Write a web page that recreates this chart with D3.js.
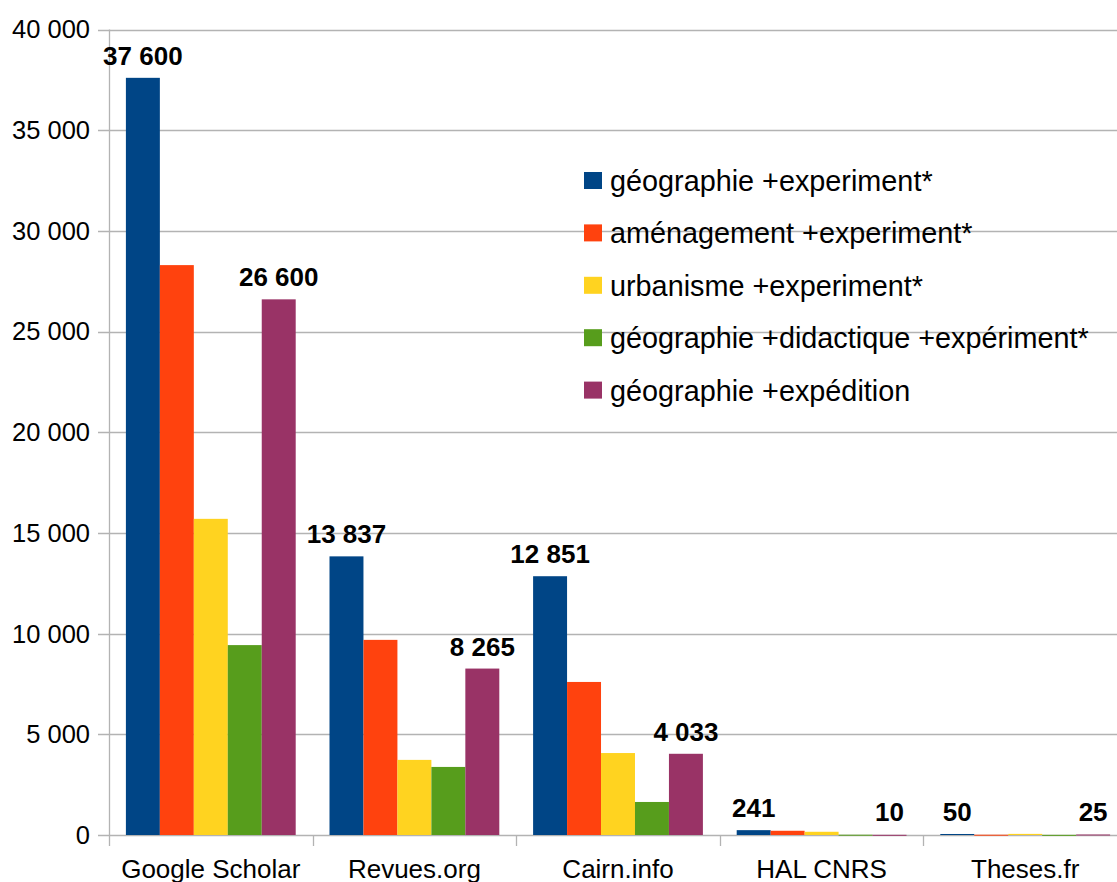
<!DOCTYPE html>
<html>
<head>
<meta charset="utf-8">
<script src="https://cdn.jsdelivr.net/npm/d3@7"></script>
<style>
  body { margin: 0; background: #fff; }
  svg { display: block; font-family: "Liberation Sans", Arial, sans-serif; }
</style>
</head>
<body>
<div class="chart-container"></div>
<script>
// --------------------------------------------------------
// DATA
// --------------------------------------------------------
const categories = ["Google Scholar", "Revues.org", "Cairn.info", "HAL CNRS", "Theses.fr"];
const seriesNames = [
  "géographie +experiment*",
  "aménagement +experiment*",
  "urbanisme +experiment*",
  "géographie +didactique +expériment*",
  "géographie +expédition"
];
const seriesColors = ["#004586", "#ff420e", "#ffd320", "#579d1c", "#993366"];
const geoExperiment = [37600, 13837, 12851, 241, 50];
const amenExperiment = [28300, 9690, 7600, 210, 15];
const urbaExperiment = [15700, 3730, 4070, 160, 55];
const geoDidactique = [9430, 3380, 1640, 15, 8];
const geoExpedition = [26600, 8265, 4033, 10, 25];
const seriesValues = [geoExperiment, amenExperiment, urbaExperiment, geoDidactique, geoExpedition];
// only these series get a value label
const labelledSeries = [0, 4];
const yTicks = [0, 5000, 10000, 15000, 20000, 25000, 30000, 35000, 40000];

// --------------------------------------------------------
// VARIABLES
// --------------------------------------------------------
const width = 1117;
const height = 882;
const plotLeft = 109;
const plotRight = 1127; // plot runs past the picture edge
const plotTop = 29.5;
const plotBottom = 835;

const fr = d3.formatLocale({ decimal: ",", thousands: " ", grouping: [3], currency: ["", "€"] });
const fmt = fr.format(",d");

const svg = d3
  .select(".chart-container")
  .append("svg")
  .attr("width", width)
  .attr("height", height);

const x = d3
  .scaleBand()
  .domain(categories)
  .range([plotLeft, plotRight])
  .paddingInner(0.166)
  .paddingOuter(0.083);

const xSeries = d3
  .scaleBand()
  .domain(d3.range(seriesNames.length))
  .range([0, x.bandwidth()]);

const y = d3.scaleLinear().domain([0, 40000]).range([plotBottom, plotTop]);

// grid lines
svg
  .append("g")
  .selectAll("line")
  .data(yTicks)
  .join("line")
  .attr("x1", plotLeft - 11)
  .attr("x2", width)
  .attr("y1", (d) => Math.round(y(d)) + 0.5)
  .attr("y2", (d) => Math.round(y(d)) + 0.5)
  .attr("stroke", "#b3b3b3")
  .attr("stroke-width", 1.3);

// y tick labels
svg
  .append("g")
  .selectAll("text")
  .data(yTicks)
  .join("text")
  .attr("x", 90)
  .attr("y", (d) => y(d))
  .attr("dy", "0.35em")
  .attr("text-anchor", "end")
  .attr("font-size", 25.5)
  .attr("fill", "#000")
  .text((d) => fmt(d));

// y axis line
svg
  .append("line")
  .attr("x1", plotLeft + 0.5)
  .attr("x2", plotLeft + 0.5)
  .attr("y1", plotTop)
  .attr("y2", plotBottom + 11)
  .attr("stroke", "#b3b3b3")
  .attr("stroke-width", 1.3);

// x category ticks
const xBounds = categories.map((c) => x(c) - (x.step() - x.bandwidth()) / 2);
svg
  .append("g")
  .selectAll("line")
  .data(xBounds.slice(1))
  .join("line")
  .attr("x1", (d) => Math.round(d) + 0.5)
  .attr("x2", (d) => Math.round(d) + 0.5)
  .attr("y1", plotBottom)
  .attr("y2", plotBottom + 11)
  .attr("stroke", "#b3b3b3")
  .attr("stroke-width", 1.3);

// bars
const groups = svg
  .append("g")
  .selectAll("g")
  .data(categories)
  .join("g")
  .attr("transform", (c) => `translate(${x(c)},0)`);

groups
  .selectAll("rect")
  .data((c, i) => seriesValues.map((vals, s) => ({ s, v: vals[i] })))
  .join("rect")
  .attr("x", (d) => xSeries(d.s))
  .attr("width", xSeries.bandwidth())
  .attr("y", (d) => y(d.v))
  .attr("height", (d) => Math.max(plotBottom - y(d.v), 1))
  .attr("fill", (d) => seriesColors[d.s]);

// value labels
groups
  .selectAll("text")
  .data((c, i) => labelledSeries.map((s) => ({ s, v: seriesValues[s][i] })))
  .join("text")
  .attr("x", (d) => xSeries(d.s) + xSeries.bandwidth() / 2)
  .attr("y", (d) => Math.min(y(d.v), plotBottom - 1) - 13)
  .attr("text-anchor", "middle")
  .attr("font-size", 26)
  .attr("font-weight", "bold")
  .attr("fill", "#000")
  .text((d) => fmt(d.v));

// category labels (cut at the bottom edge, as in the original)
svg
  .append("g")
  .selectAll("text")
  .data(categories)
  .join("text")
  .attr("x", (c) => x(c) + x.bandwidth() / 2)
  .attr("y", 878)
  .attr("text-anchor", "middle")
  .attr("font-size", 26)
  .attr("fill", "#000")
  .text((c) => c);

// --------------------------------------------------------
// LEGEND
// --------------------------------------------------------
const legend = svg
  .append("g")
  .selectAll("g")
  .data(seriesNames)
  .join("g")
  .attr("transform", (d, i) => `translate(584,${180.5 + i * 52.4})`);

legend
  .append("rect")
  .attr("x", 0)
  .attr("y", -8.5)
  .attr("width", 18)
  .attr("height", 17)
  .attr("fill", (d, i) => seriesColors[i]);

legend
  .append("text")
  .attr("x", 26)
  .attr("y", 10.5)
  .attr("font-size", 28.8)
  .attr("fill", "#000")
  .text((d) => d);
</script>
</body>
</html>
